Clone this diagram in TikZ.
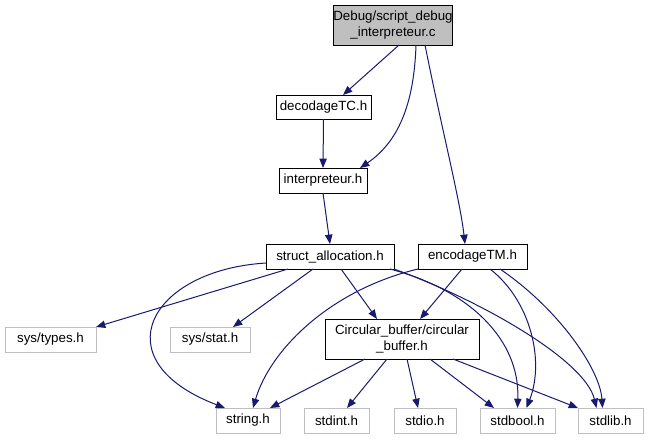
\documentclass[tikz,border=0pt]{standalone}
\usepackage{fontspec}
\setmainfont{Liberation Sans}
\usetikzlibrary{arrows.meta,calc}
\definecolor{edgeblue}{HTML}{191970}
\definecolor{boxgray}{HTML}{BFBFBF}
\begin{document}
\begin{tikzpicture}[x=0.75pt, y=-0.75pt,
	file/.style={draw=black, line width=0.75pt, inner sep=0pt, outer sep=0pt, minimum height=18.75pt, align=center, font=\fontsize{10}{11.5}\selectfont},
	sysfile/.style={file, draw=boxgray},
	rootfile/.style={file, fill=boxgray, minimum height=30pt},
	dep/.style={draw=edgeblue, line width=0.75pt, -{Triangle[length=7pt,width=5.5pt]}}]
	\useasboundingbox (0,0) rectangle (648,440);
	% fichiers
	\node[rootfile, minimum width=63pt] (root) at (393,25) {Debug/script\_debug\\\_interpreteur.c};
	\node[file, minimum width=71.25pt, minimum height=18pt] (dec) at (323.5,107) {decodageTC.h};
	\node[file, minimum width=66pt] (interp) at (323,180.5) {interpreteur.h};
	\node[file, minimum width=96pt] (salloc) at (330,256.5) {struct\_allocation.h};
	\node[file, minimum width=81.75pt] (enc) at (472.5,256.5) {encodageTM.h};
	\node[file, minimum width=115.5pt, minimum height=30pt] (cbuf) at (402,339) {Circular\_buffer/circular\\\_buffer.h};
	% en-tetes systeme
	\node[sysfile, minimum width=68.25pt] (stypes) at (50.5,339.5) {sys/types.h};
	\node[sysfile, minimum width=60pt] (sstat) at (210,339.5) {sys/stat.h};
	\node[sysfile, minimum width=48pt] (string) at (248,420.5) {string.h};
	\node[sysfile, minimum width=48.75pt] (stdint) at (336.5,420.5) {stdint.h};
	\node[sysfile, minimum width=46.5pt] (stdio) at (425,420.5) {stdio.h};
	\node[sysfile, minimum width=56.25pt] (stdbool) at (517.5,420.5) {stdbool.h};
	\node[sysfile, minimum width=48.75pt] (stdlib) at (610.5,420.5) {stdlib.h};
	% dependances
	\draw[dep] ($(root.south)+(6,0)$) -- ($(dec.north)+(19.5,0)$);
	\draw[dep] ($(root.south)+(23,0)$) .. controls (414,105) and (398,142) .. ($(interp.north)+(37,0)$);
	\draw[dep] ($(root.south)+(32,0)$) .. controls (442,130) and (460,200) .. ($(enc.north)+(-7.5,0)$);
	\draw[dep] (dec.south) -- (interp.north);
	\draw[dep] (interp.south) -- (salloc.north);
	\draw[dep] ($(salloc.south)+(-42,0)$) -- (stypes.north east);
	\draw[dep] ($(salloc.south)+(-17,0)$) -- ($(sstat.north)+(23,0)$);
	\draw[dep] ($(salloc.west)+(0,6.5)$) .. controls (150,270) and (100,360) .. ($(string.north)+(-23,0)$);
	\draw[dep] ($(salloc.south)+(11,0)$) -- ($(cbuf.north)+(-25,0)$);
	\draw[dep] ($(salloc.south east)+(-4,0)$) .. controls (470,290) and (520,340) .. ($(stdbool.north)+(0,0)$);
	\draw[dep] (salloc.south east) .. controls (480,300) and (585,360) .. ($(stdlib.north)+(-14,0)$);
	\draw[dep] ($(enc.south)+(-10.5,0)$) -- ($(cbuf.north)+(18,0)$);
	\draw[dep] (enc.south west) .. controls (330,290) and (270,350) .. ($(string.north)+(5,0)$);
	\draw[dep] ($(enc.south)+(17.5,0)$) .. controls (530,300) and (545,360) .. ($(stdbool.north)+(9,0)$);
	\draw[dep] ($(enc.south)+(27.5,0)$) .. controls (560,310) and (600,370) .. ($(stdlib.north)+(-8,0)$);
	\draw[dep] ($(cbuf.south)+(-37,0)$) -- ($(string.north east)+(-10,0)$);
	\draw[dep] ($(cbuf.south)+(-15,0)$) -- ($(stdint.north)+(10.5,0)$);
	\draw[dep] ($(cbuf.south)+(5,0)$) -- ($(stdio.north)+(-7,0)$);
	\draw[dep] ($(cbuf.south)+(28,0)$) -- ($(stdbool.north)+(-23.5,0)$);
	\draw[dep] ($(cbuf.south)+(51,0)$) -- (stdlib.north west);
\end{tikzpicture}
\end{document}
